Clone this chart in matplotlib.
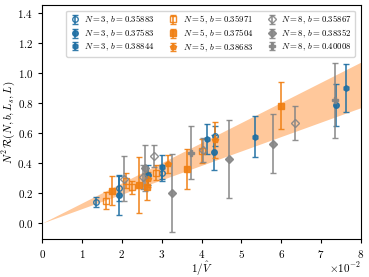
import numpy as np
import matplotlib
import matplotlib.pyplot as plt

matplotlib.use("Agg")

plt.rcParams['font.family'] = 'serif'
plt.rcParams['font.serif'] = ['cmr10', 'DejaVu Serif']
plt.rcParams['mathtext.fontset'] = 'cm'
plt.rcParams['axes.formatter.use_mathtext'] = True
plt.rcParams.update({'font.size': 8})

# x values are 1/V-hat in units of 1e-2
# N = 3
n3_b1_x = [1.34, 1.93, 3.00, 4.33]
n3_b1_y = [0.140, 0.230, 0.333, 0.580]
n3_b1_e = [0.033, 0.085, 0.055, 0.065]

n3_b2_x = [1.93, 2.66, 4.30, 7.38]
n3_b2_y = [0.185, 0.320, 0.470, 0.785]
n3_b2_e = [0.135, 0.065, 0.115, 0.140]

n3_b3_x = [3.00, 4.13, 5.35, 7.63]
n3_b3_y = [0.375, 0.560, 0.575, 0.900]
n3_b3_e = [0.080, 0.100, 0.135, 0.160]

# N = 5
n5_b1_x = [1.60, 2.10, 2.25, 2.86, 4.00]
n5_b1_y = [0.149, 0.280, 0.237, 0.333, 0.480]
n5_b1_e = [0.055, 0.050, 0.045, 0.050, 0.080]

n5_b2_x = [1.75, 2.44, 2.62, 3.63, 6.00]
n5_b2_y = [0.215, 0.253, 0.240, 0.360, 0.780]
n5_b2_e = [0.095, 0.185, 0.090, 0.135, 0.155]

n5_b3_x = [2.65, 3.15, 4.33]
n5_b3_y = [0.290, 0.390, 0.550]
n5_b3_e = [0.050, 0.060, 0.120]

# N = 8
n8_b1_x = [2.06, 2.54, 2.81, 4.03, 6.34]
n8_b1_y = [0.293, 0.304, 0.444, 0.487, 0.664]
n8_b1_e = [0.150, 0.080, 0.075, 0.080, 0.115]

n8_b2_x = [2.58, 3.25, 4.69, 5.80]
n8_b2_y = [0.365, 0.197, 0.427, 0.527]
n8_b2_e = [0.155, 0.260, 0.260, 0.195]

n8_b3_x = [3.73, 7.35]
n8_b3_y = [0.467, 0.815]
n8_b3_e = [0.175, 0.250]

# fit band
band_x = [0.0, 8.0]
band_lo = [0.0, 0.767]
band_hi = [0.0, 1.070]

blue = "#1f6fa3"
orange = "#f07f12"
grey = "#858585"

series = [
  (n3_b1_x, n3_b1_y, n3_b1_e, blue, "o", "none", r"$N=3,\,b=0.35883$"),
  (n3_b2_x, n3_b2_y, n3_b2_e, blue, "o", "full", r"$N=3,\,b=0.37583$"),
  (n3_b3_x, n3_b3_y, n3_b3_e, blue, "h", "full", r"$N=3,\,b=0.38844$"),
  (n5_b1_x, n5_b1_y, n5_b1_e, orange, "s", "none", r"$N=5,\,b=0.35971$"),
  (n5_b2_x, n5_b2_y, n5_b2_e, orange, "s", "full", r"$N=5,\,b=0.37504$"),
  (n5_b3_x, n5_b3_y, n5_b3_e, orange, "p", "full", r"$N=5,\,b=0.38683$"),
  (n8_b1_x, n8_b1_y, n8_b1_e, grey, "D", "none", r"$N=8,\,b=0.35867$"),
  (n8_b2_x, n8_b2_y, n8_b2_e, grey, "D", "full", r"$N=8,\,b=0.38352$"),
  (n8_b3_x, n8_b3_y, n8_b3_e, grey, "P", "full", r"$N=8,\,b=0.40008$"),
]

fig = plt.figure(figsize = (3.69, 2.77), dpi = 100)
ax = fig.add_axes([0.1146, 0.137, 0.8634, 0.845])

ax.fill_between(band_x, band_lo, band_hi, color = "#ffc290", alpha = 0.9, lw = 0, zorder = 1)

for x, y, e, c, m, fs, lab in series:
  ax.errorbar(x, y, yerr = e, fmt = m, color = c, fillstyle = fs,
              markersize = 4, capsize = 2.5, elinewidth = 1.2, markeredgewidth = 1.0,
              alpha = 0.9, label = lab, zorder = 3)

ax.set_xlim(0, 8)
ax.set_ylim(-0.107, 1.45)
ax.set_yticks([0.0, 0.2, 0.4, 0.6, 0.8, 1.0, 1.2, 1.4])
ax.tick_params(length = 3)
ax.set_xlabel(r"$1/\hat{V}$", labelpad = 0)
ax.set_ylabel(r"$N^2\,\mathcal{R}(N, b, L_s, L)$", labelpad = 0)
# scale factor of the x axis
ax.text(1.0, -0.092, r"$\times10^{-2}$", transform = ax.transAxes, ha = "right", va = "top")

ax.legend(loc = 'upper right', ncol = 3, fontsize = 6.3, columnspacing = 1.5,
          handletextpad = 0.5, handlelength = 1.2, labelspacing = 0.15,
          borderpad = 0.35, bbox_to_anchor = (0.995, 0.995))

plt.savefig("out.png", dpi = 100)
